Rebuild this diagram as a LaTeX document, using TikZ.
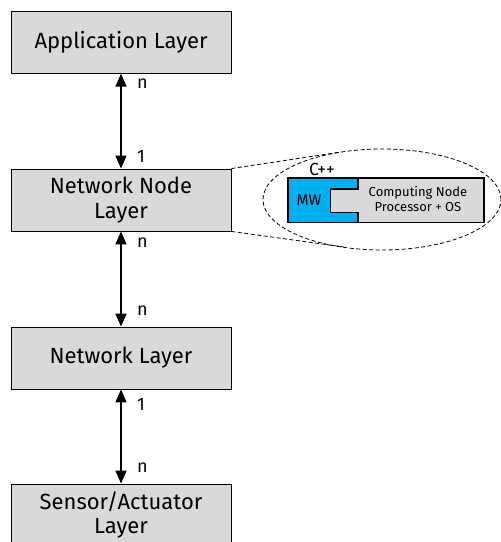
\documentclass[tikz,border=0pt]{standalone}
\usepackage{fontspec}
\setmainfont{Fira Sans}
\usetikzlibrary{arrows.meta,shapes.geometric}
\definecolor{layergray}{HTML}{D9D9D9}
\definecolor{mwblue}{HTML}{00B0F0}
\tikzset{
  layer/.style={draw=black, line width=0.9pt, fill=layergray, minimum width=220pt,
    minimum height=62pt, inner sep=0pt, align=center,
    font=\fontsize{22}{24.5}\selectfont},
  link/.style={line width=1.6pt, {Triangle[length=13pt,width=11pt]}-{Triangle[length=13pt,width=11pt]}},
  mult/.style={anchor=base west, inner sep=0pt, font=\fontsize{18}{20}\selectfont},
  callout/.style={line width=0.8pt, dash pattern=on 4pt off 2.5pt},
  part/.style={draw=black, line width=1.2pt},
  small/.style={inner sep=0pt, align=center, font=\fontsize{13}{15}\selectfont}
}
\begin{document}
\begin{tikzpicture}[x=1pt, y=-1pt]
  \useasboundingbox (0,0) rectangle (501,542);
  \clip (0,0) rectangle (501,542);

  % layer stack
  \node[layer] (app) at (121,42.25) {Application Layer};
  \node[layer] (nn)  at (121,200) {Network Node\\Layer};
  \node[layer] (nl)  at (121,358) {Network Layer};
  \node[layer] (sa)  at (121,515) {Sensor/Actuator\\Layer};

  % links with multiplicities
  \draw[link] (app.south) -- (nn.north);
  \draw[link] (nn.south) -- (nl.north);
  \draw[link] (nl.south) -- (sa.north);

  \node[mult] (m1) at (137,88)  {n};
  \node[mult] (m2) at (137,162) {1};
  \node[mult] (m3) at (137,247) {n};
  \node[mult] (m4) at (137,315) {n};
  \node[mult] (m5) at (137,410) {1};
  \node[mult] (m6) at (137,472) {n};

  % zoom-in on the network node
  \node[callout, draw, ellipse, minimum width=238pt, minimum height=101pt, inner sep=0pt] (zoom) at (382,199.5) {};
  \coordinate (tu) at (341,152);
  \coordinate (tl) at (344,247);
  \draw[callout] (nn.north east) -- (tu);
  \draw[callout] (nn.south east) -- (tl);

  % middleware wrapped around the computing node
  \draw[part, fill=mwblue] (288,178) -- (358,178) -- (358,189) -- (330.5,189) -- (330.5,212.3)
    -- (358,212.3) -- (358,222.3) -- (288,222.3) -- cycle;
  \draw[part, fill=layergray] (358,178) -- (484,178) -- (484,222.3) -- (358,222.3) -- (358,212.3)
    -- (330.5,212.3) -- (330.5,189) -- (358,189) -- cycle;

  \node[small, anchor=base, font=\fontsize{17.5}{18}\selectfont] (cpp) at (322,175) {C++};
  \node[small, anchor=base, font=\fontsize{15.5}{16}\selectfont] (mw)  at (309,205) {MW};
  \node[small, anchor=base] (cn)  at (418,196.7) {Computing Node};
  \node[small, anchor=base] (pos) at (418,211.7) {Processor + OS};
\end{tikzpicture}
\end{document}
